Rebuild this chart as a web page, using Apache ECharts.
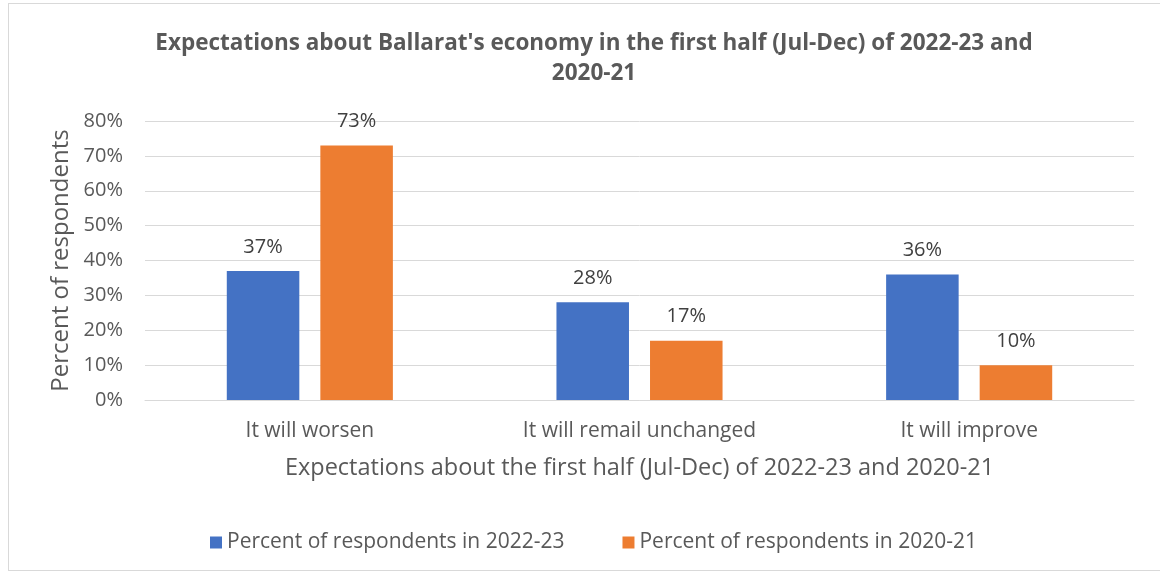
<!DOCTYPE html>
<html>
<head>
<meta charset="utf-8">
<script src="https://cdn.jsdelivr.net/npm/echarts@6/dist/echarts.min.js"></script>
<style>
  html, body { margin: 0; padding: 0; background: #ffffff; }
  #frame { position: absolute; left: 8px; top: 3px; width: 1160px; height: 568px; border: 1px solid #d9d9d9; box-sizing: border-box; }
  #chart { position: absolute; left: 0; top: 0; width: 1160px; height: 575px; }
</style>
</head>
<body>
<div id="frame"></div>
<div id="chart"></div>
<script>
// Survey responses by expectation category
const categories = ['It will worsen', 'It will remail unchanged', 'It will improve'];
const seriesNames = ['Percent of respondents in 2022-23', 'Percent of respondents in 2020-21'];
const values2022 = [37, 28, 36];
const values2020 = [73, 17, 10];
const yTicks = { min: 0, max: 80, interval: 10 };

const FONT = '"Open Sans", sans-serif';
const TEXT = '#595959';

const chart = echarts.init(document.getElementById('chart'), null, { renderer: 'canvas' });

const labelStyle = {
  show: true,
  position: 'top',
  distance: 14,
  formatter: p => p.value + '%',
  color: '#404040',
  fontFamily: FONT,
  fontSize: 20
};

chart.setOption({
  animation: false,
  title: {
    text: "Expectations about Ballarat's economy in the first half (Jul-Dec) of 2022-23 and\n2020-21",
    left: 589,
    textAlign: 'center',
    top: 24,
    textStyle: { color: TEXT, fontFamily: FONT, fontWeight: 'bold', fontSize: 22.5, lineHeight: 30 }
  },
  legend: {
    data: seriesNames,
    top: 527,
    left: 205,
    itemWidth: 12,
    itemHeight: 12,
    itemGap: 58,
    icon: 'rect',
    textStyle: { color: TEXT, fontFamily: FONT, fontSize: 21 }
  },
  grid: { left: 145, right: 26, top: 121, bottom: 175, containLabel: false },
  xAxis: {
    type: 'category',
    data: categories,
    axisLine: { lineStyle: { color: '#d9d9d9', width: 1 } },
    axisTick: { show: false },
    axisLabel: { color: TEXT, fontFamily: FONT, fontSize: 21, margin: 21 },
    name: 'Expectations about the first half (Jul-Dec) of 2022-23 and 2020-21',
    nameLocation: 'middle',
    nameGap: 56,
    nameTextStyle: { color: TEXT, fontFamily: FONT, fontSize: 23.5 }
  },
  yAxis: {
    type: 'value',
    min: yTicks.min,
    max: yTicks.max,
    interval: yTicks.interval,
    axisLine: { show: false },
    axisTick: { show: false },
    splitLine: { lineStyle: { color: '#d9d9d9', width: 1 } },
    axisLabel: { color: TEXT, fontFamily: FONT, fontSize: 20, margin: 22, formatter: '{value}%' },
    name: 'Percent of respondents',
    nameLocation: 'middle',
    nameGap: 70,
    nameTextStyle: { color: TEXT, fontFamily: FONT, fontSize: 24 }
  },
  series: [
    {
      name: seriesNames[0],
      type: 'bar',
      data: values2022,
      itemStyle: { color: '#4472c4' },
      barWidth: '22%',
      barGap: '29%',
      label: labelStyle
    },
    {
      name: seriesNames[1],
      type: 'bar',
      data: values2020,
      itemStyle: { color: '#ed7d31' },
      barWidth: '22%',
      barGap: '29%',
      label: labelStyle
    }
  ]
});
</script>
</body>
</html>
